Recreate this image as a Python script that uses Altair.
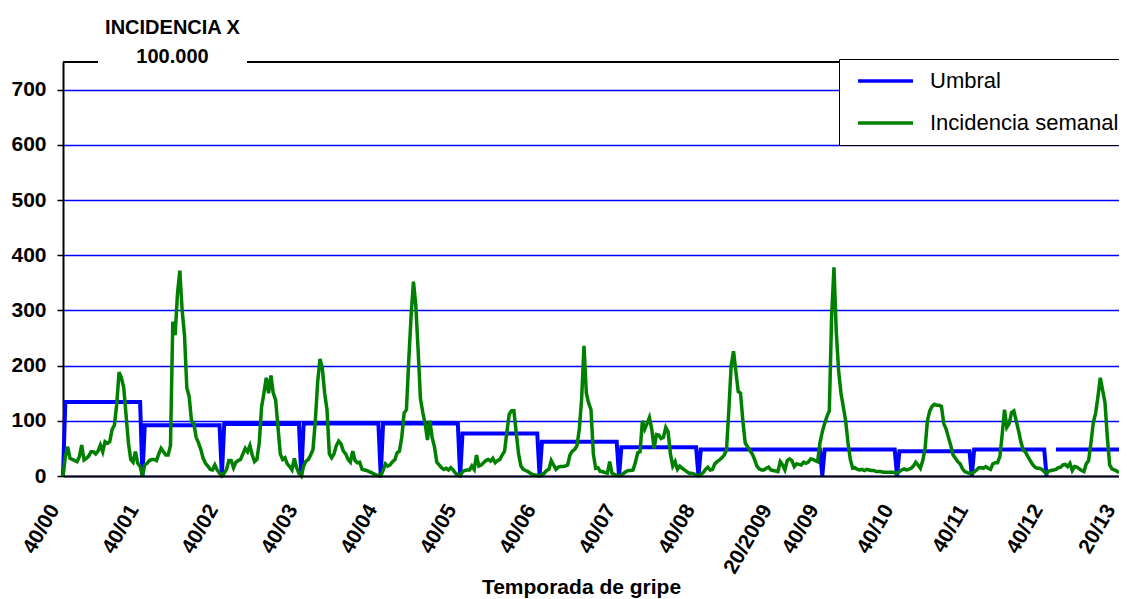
import pandas as pd
import altair as alt

# Temporadas de gripe (semanas 40 a 20, y la temporada 2008/09 completa)
temporadas = ["2000/01", "2001/02", "2002/03", "2003/04", "2004/05", "2005/06", "2006/07",
              "2007/08", "2008/09", "2009/10", "2010/11", "2011/12", "2012/13"]
semanas_temporada = [34, 34, 34, 34, 34, 34, 34, 34, 53, 32, 32, 32, 32]
umbral_temporada = [134, 92, 94, 95, 95, 77, 62, 52, 48, 48, 45, 48, 48]
umbral_huecos = [422, 423, 424]  # semanas sin umbral al inicio de 2012/13

inc_0001 = [0, 35, 53, 32, 30, 28, 26, 35, 56, 29, 32, 36, 44, 44, 40, 45, 56, 44, 62, 59,
            62, 84, 92, 130, 188, 178, 160, 110, 60, 30, 25, 44, 23, 17]
inc_0102 = [0, 20, 23, 28, 30, 30, 28, 40, 50, 44, 38, 38, 55, 280, 255, 330, 372, 300, 255, 160,
            144, 100, 95, 70, 60, 48, 32, 23, 18, 12, 11, 20, 11, 5]
inc_0203 = [0, 5, 12, 28, 28, 15, 25, 28, 30, 40, 50, 44, 55, 38, 26, 30, 60, 125, 150, 178,
            150, 182, 150, 138, 90, 40, 30, 33, 22, 17, 11, 32, 15, 5]
inc_0304 = [0, 18, 27, 30, 38, 48, 100, 170, 212, 195, 150, 120, 40, 33, 40, 55, 63, 58, 45, 40,
            30, 25, 45, 28, 24, 25, 12, 11, 10, 8, 6, 4, 2, 1]
inc_0405 = [0, 10, 22, 18, 20, 26, 29, 42, 45, 70, 114, 120, 210, 290, 352, 310, 228, 140, 115, 95,
            65, 100, 70, 53, 25, 20, 15, 12, 14, 11, 15, 11, 5, 2]
inc_0506 = [0, 8, 10, 11, 11, 18, 12, 38, 18, 20, 24, 28, 30, 27, 32, 24, 28, 30, 38, 45,
            80, 112, 118, 118, 78, 40, 18, 12, 10, 8, 5, 3, 2, 1]
inc_0607 = [0, 3, 5, 10, 12, 28, 20, 12, 16, 17, 17, 18, 20, 38, 45, 48, 55, 85, 140, 236,
            150, 132, 120, 40, 14, 15, 8, 8, 6, 5, 26, 5, 3, 1]
inc_0708 = [0, 2, 5, 8, 10, 10, 11, 25, 42, 44, 100, 85, 95, 106, 85, 50, 75, 74, 68, 70,
            88, 80, 40, 18, 26, 12, 18, 14, 11, 8, 5, 5, 4, 2]
inc_0809 = [0, 3, 6, 12, 16, 11, 12, 22, 26, 29, 33, 38, 47, 120, 200, 226, 190, 153, 150, 100,
            60, 53, 46, 40, 30, 18, 13, 11, 11, 14, 16, 11, 10, 9, 8, 26, 20, 11, 28, 31,
            28, 17, 22, 21, 20, 25, 23, 25, 31, 30, 28, 26, 60]
inc_0910 = [80, 95, 108, 118, 290, 378, 260, 190, 150, 125, 100, 60, 30, 14, 15, 12, 11, 12, 10, 12,
            11, 10, 10, 8, 8, 8, 7, 7, 7, 7, 7, 6]
inc_1011 = [5, 8, 11, 13, 11, 12, 14, 18, 25, 20, 14, 28, 50, 100, 118, 126, 130, 128, 128, 126,
            95, 85, 70, 55, 38, 32, 26, 22, 13, 8, 6, 5]
inc_1112 = [5, 7, 11, 15, 15, 14, 17, 14, 12, 22, 24, 24, 35, 75, 120, 88, 95, 115, 118, 100,
            82, 62, 47, 43, 35, 28, 21, 16, 14, 14, 12, 8]
inc_1213 = [5, 9, 10, 11, 12, 15, 16, 20, 21, 17, 23, 10, 17, 16, 13, 10, 8, 22, 28, 60,
            97, 114, 144, 178, 155, 133, 71, 20, 13, 11, 9, 6]

incidencias = [inc_0001, inc_0102, inc_0203, inc_0304, inc_0405, inc_0506, inc_0607,
               inc_0708, inc_0809, inc_0910, inc_1011, inc_1112, inc_1213]

etiquetas = ["40/00", "40/01", "40/02", "40/03", "40/04", "40/05", "40/06", "40/07",
             "40/08", "20/2009", "40/09", "40/10", "40/11", "40/12", "20/13"]
pos_etiquetas = [0, 34, 68, 102, 136, 170, 204, 238, 272, 305, 325, 357, 389, 421, 452]

filas = []
i = 0
for k, n in enumerate(semanas_temporada):
    for j in range(n):
        filas.append({"semana": i, "valor": incidencias[k][j],
                      "serie": "Incidencia semanal", "tramo": 0})
        if i not in umbral_huecos:
            filas.append({"semana": i, "valor": 0 if j == 0 else umbral_temporada[k],
                          "serie": "Umbral", "tramo": sum(1 for h in umbral_huecos if h < i)})
        i += 1
df = pd.DataFrame(filas)
n_total = i

W, H = 1056, 414

label_expr = "[" + ",".join("'%s'" % e for e in etiquetas) + "][indexof([" + \
    ",".join(str(p) for p in pos_etiquetas) + "], datum.value)]"

color = alt.Color("serie:N",
                  scale=alt.Scale(domain=["Umbral", "Incidencia semanal"],
                                  range=["#0000FF", "#008000"]),
                  legend=alt.Legend(title=None, orient="none", legendX=776, legendY=-3,
                                    direction="vertical", symbolType="stroke",
                                    symbolSize=3025, symbolStrokeWidth=3.5, symbolOffset=7,
                                    clipHeight=24, rowPadding=18, padding=10, labelOffset=15,
                                    labelFontSize=22, labelFont="Liberation Sans",
                                    labelColor="black", labelLimit=300,
                                    strokeColor="black", fillColor="white"))

base = alt.Chart(df).encode(
    x=alt.X("semana:Q",
            scale=alt.Scale(domain=[0, n_total - 1], nice=False, zero=False),
            axis=alt.Axis(values=pos_etiquetas, labelExpr=label_expr, labelAngle=-60,
                          labelAlign="right", labelBaseline="bottom", labelPadding=35,
                          ticks=False, grid=False, labelOverlap=False, labelFlush=False,
                          domainColor="black", domainWidth=2, zindex=1,
                          labelFontSize=21, labelFontWeight="bold", labelColor="black",
                          title="Temporada de gripe", titleFontSize=21,
                          titleFontWeight="bold", titleColor="black",
                          titleX=518, titleY=117, titleAlign="center",
                          titleBaseline="alphabetic")),
    y=alt.Y("valor:Q",
            scale=alt.Scale(domain=[0, 750], nice=False),
            axis=alt.Axis(values=[0, 100, 200, 300, 400, 500, 600, 700], format="d",
                          grid=True, gridColor="#0000FF", gridWidth=1.5,
                          domainColor="black", domainWidth=2, tickColor="black",
                          tickSize=6, tickWidth=1.5, labelPadding=11,
                          labelFontSize=21, labelFontWeight="bold", labelColor="black",
                          title=["INCIDENCIA X", "100.000"], titleAngle=0,
                          titleX=109, titleY=-29, titleAlign="center",
                          titleBaseline="alphabetic", titleFontSize=20,
                          titleFontWeight="bold", titleColor="black", titleLineHeight=29)),
    color=color,
)

linea_umbral = base.transform_filter(alt.datum.serie == "Umbral").mark_line(
    strokeWidth=4).encode(detail="tramo:N")
linea_incidencia = base.transform_filter(alt.datum.serie == "Incidencia semanal").mark_line(
    strokeWidth=3.5)

uno = pd.DataFrame({"k": [0]})
marco_a = alt.Chart(uno).mark_rule(color="black", strokeWidth=2).encode(
    x=alt.value(0), x2=alt.value(35), y=alt.value(0))
marco_b = alt.Chart(uno).mark_rule(color="black", strokeWidth=2).encode(
    x=alt.value(184), x2=alt.value(W), y=alt.value(0))

chart = alt.layer(linea_umbral, linea_incidencia, marco_a, marco_b).properties(
    width=W, height=H,
    autosize=alt.AutoSizeParams(type="none"),
    padding={"left": 55, "top": 54, "right": 0, "bottom": 123},
).configure(font="Liberation Sans").configure_view(stroke="transparent")

chart.save("out.html", embed_options={"renderer": "svg", "actions": False})
